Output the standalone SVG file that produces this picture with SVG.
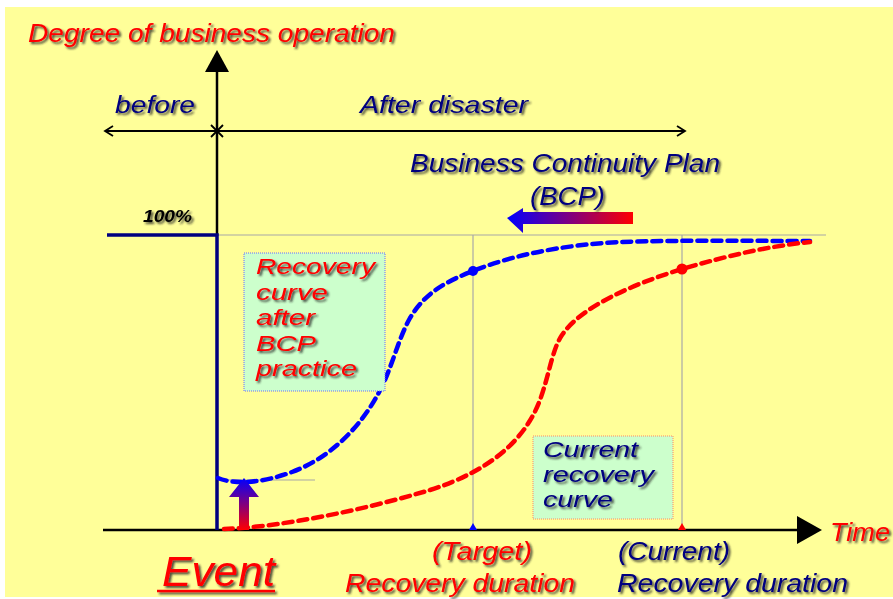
<svg xmlns="http://www.w3.org/2000/svg" width="893" height="599" viewBox="0 0 893 599">
<defs>
<style>
.t{font-family:"Liberation Sans",Arial,sans-serif;font-style:italic}
.red{fill:#FF0000}
.navy{fill:#000080}
.ax{stroke:#000;stroke-width:2.5;fill:none}
.grid{stroke:#A8A8A8;stroke-width:1.2;fill:none}
.dash{fill:none;stroke-width:4.5;stroke-dasharray:9 6;stroke-linecap:round}
</style>
<filter id="sh" x="-10%" y="-20%" width="130%" height="150%">
<feDropShadow dx="2" dy="2" stdDeviation="0.9" flood-color="#222" flood-opacity="0.8"/>
</filter>
<linearGradient id="gh" x1="0" y1="0" x2="1" y2="0">
<stop offset="0" stop-color="#0000FF"/><stop offset="1" stop-color="#FF0000"/>
</linearGradient>
<linearGradient id="gv" x1="0" y1="0" x2="0" y2="1">
<stop offset="0" stop-color="#0000FF"/><stop offset="1" stop-color="#FF0000"/>
</linearGradient>
<marker id="open" viewBox="0 0 12 12" refX="10" refY="6" markerWidth="12" markerHeight="12" markerUnits="userSpaceOnUse" orient="auto-start-reverse">
<path d="M2,1 L10,6 L2,11" fill="none" stroke="#000" stroke-width="1.8"/>
</marker>
</defs>
<rect x="0" y="0" width="893" height="599" fill="#FFFFFF"/>
<rect x="5" y="7" width="888" height="590" fill="#FFFF99"/>

<g id="gridlines">
<line class="grid" x1="217" y1="235" x2="826" y2="235"/>
<line class="grid" x1="473" y1="235" x2="473" y2="530"/>
<line class="grid" x1="682" y1="235" x2="682" y2="530"/>
<line class="grid" x1="217" y1="480" x2="315" y2="480"/>
</g>

<g id="connectors">
<line class="ax" x1="217" y1="70" x2="217" y2="236"/>
<polygon points="217,50 205,72 229,72" fill="#000"/>
<line class="ax" x1="103" y1="530" x2="800" y2="530"/>
<polygon points="822,530 797,516 797,544" fill="#000"/>
<line x1="105" y1="131" x2="685" y2="131" stroke="#000" stroke-width="2" marker-start="url(#open)" marker-end="url(#open)"/>
<path d="M211,125 L223,137 M223,125 L211,137" stroke="#000" stroke-width="1.8"/>
<path d="M107,235 L217,235 L217,530" fill="none" stroke="#000080" stroke-width="3.5"/>
<path class="dash" stroke="#0000FF" d="M218,478 C235,485 262,483 292,472 C330,458 365,425 385,380 C395,356 400,336 410,318 C425,293 445,282 473,271 C510,256 560,245 620,242 C680,240 760,241 810,241"/>
<path class="dash" stroke="#FF0000" d="M224,529 C280,527 360,511 430,490 C490,471 525,440 540,400 C550,372 552,350 562,335 C580,308 630,285 682,269 C730,255 770,246 810,242"/>
<circle cx="473" cy="271" r="5" fill="#0000FF"/>
<circle cx="682" cy="269" r="5.5" fill="#FF0000"/>
<polygon points="473,523 469,530 477,530" fill="#0000FF"/>
<polygon points="682,523 678,530 686,530" fill="#FF0000"/>
<polygon points="244,478 229,497 239,497 239,530 249,530 249,497 259,497" fill="url(#gv)"/>
<polygon points="507,218 523,208 523,212 633,212 633,224 523,224 523,233" fill="url(#gh)"/>
</g>

<g id="title" class="t" filter="url(#sh)">
<text x="28" y="42" font-size="25" class="red" textLength="367" lengthAdjust="spacingAndGlyphs">Degree of business operation</text>
</g>
<g id="before" class="t" filter="url(#sh)">
<text x="115" y="113" font-size="24" class="navy" textLength="80" lengthAdjust="spacingAndGlyphs">before</text>
</g>
<g id="after" class="t" filter="url(#sh)">
<text x="360" y="113" font-size="24" class="navy" textLength="168" lengthAdjust="spacingAndGlyphs">After disaster</text>
</g>
<g id="bcp" class="t" filter="url(#sh)">
<text x="410" y="172" font-size="25" class="navy" textLength="310" lengthAdjust="spacingAndGlyphs">Business Continuity Plan</text>
<text x="530" y="205" font-size="25" class="navy" textLength="75" lengthAdjust="spacingAndGlyphs">(BCP)</text>
</g>
<g id="pct" class="t">
<text x="143" y="222" font-size="17" font-weight="bold" fill="#000" filter="url(#sh)" textLength="49" lengthAdjust="spacingAndGlyphs">100%</text>
</g>

<g id="box-bcp">
<rect x="244" y="253" width="141" height="138" fill="#CCFFCC" stroke="#6A6AFF" stroke-width="1" stroke-dasharray="1 1"/>
<g class="t red" font-size="22" filter="url(#sh)">
<text x="256" y="274" textLength="119" lengthAdjust="spacingAndGlyphs">Recovery</text>
<text x="256" y="299.5" textLength="72" lengthAdjust="spacingAndGlyphs">curve</text>
<text x="256" y="325" textLength="59" lengthAdjust="spacingAndGlyphs">after</text>
<text x="256" y="350.5" textLength="60" lengthAdjust="spacingAndGlyphs">BCP</text>
<text x="256" y="376" textLength="101" lengthAdjust="spacingAndGlyphs">practice</text>
</g>
</g>

<g id="box-current">
<rect x="533" y="436" width="140" height="83" fill="#CCFFCC" stroke="#FF8866" stroke-width="1" stroke-dasharray="1 1"/>
<g class="t navy" font-size="21.5" filter="url(#sh)">
<text x="543" y="457" textLength="95" lengthAdjust="spacingAndGlyphs">Current</text>
<text x="543" y="482" textLength="111" lengthAdjust="spacingAndGlyphs">recovery</text>
<text x="543" y="507" textLength="70" lengthAdjust="spacingAndGlyphs">curve</text>
</g>
</g>

<g id="time" class="t" filter="url(#sh)">
<text x="830" y="541" font-size="25" class="red" textLength="60" lengthAdjust="spacingAndGlyphs">Time</text>
</g>

<g id="event" filter="url(#sh)">
<text x="162" y="586" font-size="42" class="t red" textLength="113" lengthAdjust="spacingAndGlyphs">Event</text>
<line x1="157" y1="591" x2="275" y2="591" stroke="#FF0000" stroke-width="2.5"/>
</g>

<g id="target" class="t red" filter="url(#sh)">
<text x="432" y="560" font-size="25" textLength="100" lengthAdjust="spacingAndGlyphs">(Target)</text>
<text x="345" y="592" font-size="26" textLength="230" lengthAdjust="spacingAndGlyphs">Recovery duration</text>
</g>
<g id="current" class="t navy" filter="url(#sh)">
<text x="618" y="560" font-size="25" textLength="112" lengthAdjust="spacingAndGlyphs">(Current)</text>
<text x="617" y="592" font-size="26" textLength="231" lengthAdjust="spacingAndGlyphs">Recovery duration</text>
</g>
</svg>
